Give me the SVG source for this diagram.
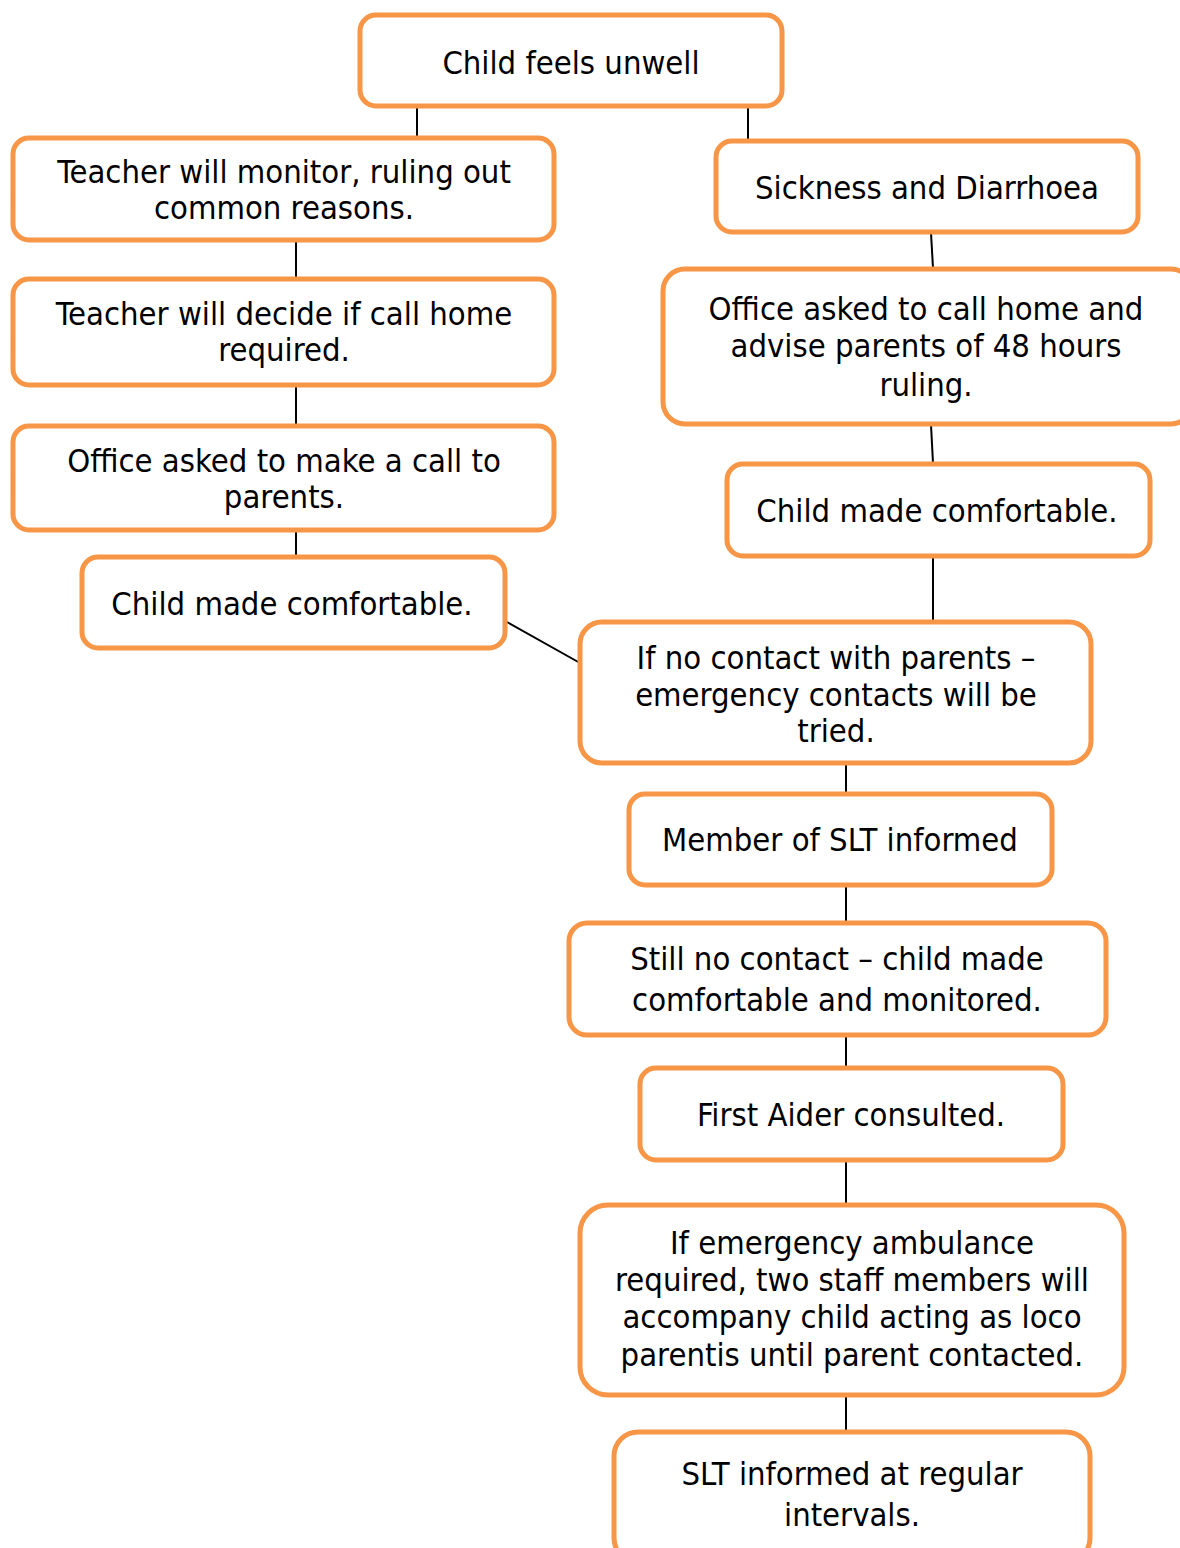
<svg xmlns="http://www.w3.org/2000/svg" width="1180" height="1548" viewBox="0 0 1180 1548">
<style>
.box{fill:#fff;stroke:#F79646;stroke-width:5}
.t{font-family:"DejaVu Sans Condensed","DejaVu Sans",sans-serif;font-stretch:condensed;font-size:32.5px;fill:#000;text-anchor:middle}
.c line{stroke:#000;stroke-width:2}
</style>
<rect width="1180" height="1548" fill="#fff"/>
<g class="c" id="connectors">
<line x1="417" y1="107" x2="417" y2="137"/>
<line x1="748" y1="107" x2="748" y2="140"/>
<line x1="296" y1="241" x2="296" y2="278"/>
<line x1="296" y1="386" x2="296" y2="425"/>
<line x1="296" y1="531" x2="296" y2="556"/>
<line x1="931" y1="233" x2="933" y2="268"/>
<line x1="931" y1="425" x2="933" y2="463"/>
<line x1="933" y1="557" x2="933" y2="621"/>
<line x1="507" y1="622" x2="580" y2="663"/>
<line x1="846" y1="764" x2="846" y2="793"/>
<line x1="846" y1="886" x2="846" y2="922"/>
<line x1="846" y1="1036" x2="846" y2="1067"/>
<line x1="846" y1="1161" x2="846" y2="1204"/>
<line x1="846" y1="1396" x2="846" y2="1431"/>
</g>
<g id="n1"><rect class="box" x="360" y="15" width="422" height="91" rx="16"/><text class="t" x="571" y="74">Child feels unwell</text></g>
<g id="n2"><rect class="box" x="13" y="138" width="541" height="102" rx="16"/><text class="t" x="284" y="183">Teacher will monitor, ruling out</text><text class="t" x="284" y="219">common reasons.</text></g>
<g id="n3"><rect class="box" x="13" y="279" width="541" height="106" rx="16"/><text class="t" x="284" y="325">Teacher will decide if call home</text><text class="t" x="284" y="361">required.</text></g>
<g id="n4"><rect class="box" x="13" y="426" width="541" height="104" rx="16"/><text class="t" x="284" y="472">Office asked to make a call to</text><text class="t" x="284" y="508">parents.</text></g>
<g id="n5"><rect class="box" x="82" y="557" width="423" height="91" rx="16"/><text class="t" x="292" y="615">Child made comfortable.</text></g>
<g id="n6"><rect class="box" x="716" y="141" width="422" height="91" rx="16"/><text class="t" x="927" y="199">Sickness and Diarrhoea</text></g>
<g id="n7"><rect class="box" x="663" y="269" width="530" height="155" rx="22"/><text class="t" x="926" y="320">Office asked to call home and</text><text class="t" x="926" y="357">advise parents of 48 hours</text><text class="t" x="926" y="396">ruling.</text></g>
<g id="n8"><rect class="box" x="727" y="464" width="423" height="92" rx="16"/><text class="t" x="937" y="522">Child made comfortable.</text></g>
<g id="n9"><rect class="box" x="580" y="622" width="511" height="141" rx="22"/><text class="t" x="836" y="669">If no contact with parents –</text><text class="t" x="836" y="706">emergency contacts will be</text><text class="t" x="836" y="742">tried.</text></g>
<g id="n10"><rect class="box" x="629" y="794" width="423" height="91" rx="16"/><text class="t" x="840" y="851">Member of SLT informed</text></g>
<g id="n11"><rect class="box" x="569" y="923" width="537" height="112" rx="18"/><text class="t" x="837" y="970">Still no contact – child made</text><text class="t" x="837" y="1011">comfortable and monitored.</text></g>
<g id="n12"><rect class="box" x="640" y="1068" width="423" height="92" rx="16"/><text class="t" x="851" y="1126">First Aider consulted.</text></g>
<g id="n13"><rect class="box" x="580" y="1205" width="544" height="190" rx="28"/><text class="t" x="852" y="1254">If emergency ambulance</text><text class="t" x="852" y="1291">required, two staff members will</text><text class="t" x="852" y="1328">accompany child acting as loco</text><text class="t" x="852" y="1366">parentis until parent contacted.</text></g>
<g id="n14"><rect class="box" x="614" y="1432" width="476" height="130" rx="24"/><text class="t" x="852" y="1485">SLT informed at regular</text><text class="t" x="852" y="1526">intervals.</text></g>
</svg>
